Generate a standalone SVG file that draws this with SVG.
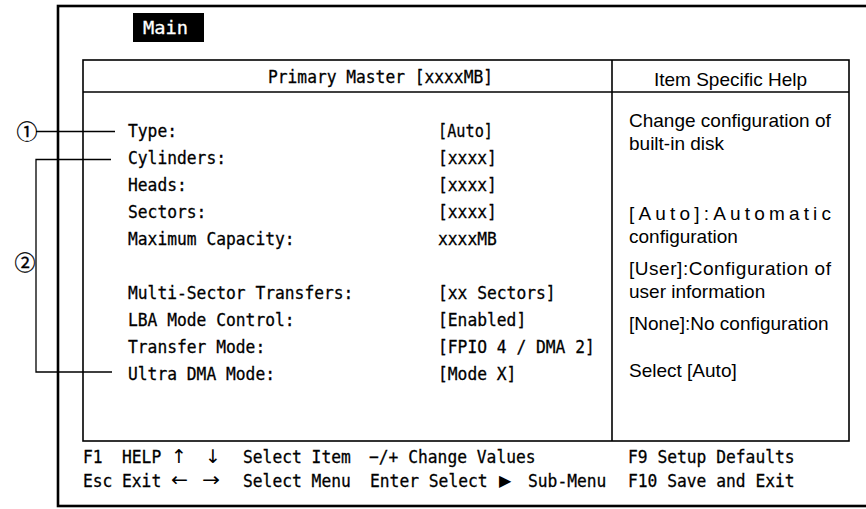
<svg xmlns="http://www.w3.org/2000/svg" width="866" height="509" viewBox="0 0 866 509">
<style>
.mono{font-family:"DejaVu Sans Mono","Liberation Mono",monospace;font-size:18px;fill:#000;stroke:#000;stroke-width:0.3}
.sans{font-family:"Liberation Sans",Arial,sans-serif;font-size:19px;fill:#000}
.circ{font-family:"Noto Sans CJK JP","DejaVu Sans",sans-serif;font-size:21px;fill:#000;stroke:#000;stroke-width:0.3}
.arr{font-family:"DejaVu Sans",sans-serif;font-size:19px;fill:#000}
.ln{stroke:#000;fill:none}
</style>
<rect width="866" height="509" fill="#fff"/>
<g id="frame">
<rect class="ln" x="58" y="6" width="830" height="500" stroke-width="2.6"/>
</g>
<g id="tab-main">
<rect x="133" y="13" width="71" height="29" fill="#000"/>
<text class="mono" x="143" y="34" style="fill:#fff;stroke:#fff" textLength="45" lengthAdjust="spacingAndGlyphs">Main</text>
</g>
<g id="panel">
<rect class="ln" x="83" y="60" width="766" height="381" stroke-width="1.6"/>
<line class="ln" x1="83" y1="92" x2="849" y2="92" stroke-width="1.6"/>
<line class="ln" x1="612" y1="60" x2="612" y2="441" stroke-width="1.6"/>
<text class="mono" x="268" y="83" textLength="225" lengthAdjust="spacingAndGlyphs">Primary Master [xxxxMB]</text>
</g>
<g id="items">
<g id="item-type"><text class="mono" x="128" y="137" textLength="49" lengthAdjust="spacingAndGlyphs">Type:</text><text class="mono" x="438" y="137" textLength="55" lengthAdjust="spacingAndGlyphs">[Auto]</text></g>
<g id="item-cylinders"><text class="mono" x="128" y="164" textLength="98" lengthAdjust="spacingAndGlyphs">Cylinders:</text><text class="mono" x="438" y="164" textLength="58.8" lengthAdjust="spacingAndGlyphs">[xxxx]</text></g>
<g id="item-heads"><text class="mono" x="128" y="191" textLength="58.8" lengthAdjust="spacingAndGlyphs">Heads:</text><text class="mono" x="438" y="191" textLength="58.8" lengthAdjust="spacingAndGlyphs">[xxxx]</text></g>
<g id="item-sectors"><text class="mono" x="128" y="218" textLength="78.4" lengthAdjust="spacingAndGlyphs">Sectors:</text><text class="mono" x="438" y="218" textLength="58.8" lengthAdjust="spacingAndGlyphs">[xxxx]</text></g>
<g id="item-maxcap"><text class="mono" x="128" y="245" textLength="166.6" lengthAdjust="spacingAndGlyphs">Maximum Capacity:</text><text class="mono" x="438" y="245" textLength="58.8" lengthAdjust="spacingAndGlyphs">xxxxMB</text></g>
<g id="item-multisector"><text class="mono" x="128" y="299" textLength="225.4" lengthAdjust="spacingAndGlyphs">Multi-Sector Transfers:</text><text class="mono" x="438" y="299" textLength="117.6" lengthAdjust="spacingAndGlyphs">[xx Sectors]</text></g>
<g id="item-lba"><text class="mono" x="128" y="326" textLength="166.6" lengthAdjust="spacingAndGlyphs">LBA Mode Control:</text><text class="mono" x="438" y="326" textLength="88.2" lengthAdjust="spacingAndGlyphs">[Enabled]</text></g>
<g id="item-transfer"><text class="mono" x="128" y="353" textLength="137.2" lengthAdjust="spacingAndGlyphs">Transfer Mode:</text><text class="mono" x="438" y="353" textLength="156.8" lengthAdjust="spacingAndGlyphs">[FPIO 4 / DMA 2]</text></g>
<g id="item-ultradma"><text class="mono" x="128" y="380" textLength="147" lengthAdjust="spacingAndGlyphs">Ultra DMA Mode:</text><text class="mono" x="438" y="380" textLength="78.4" lengthAdjust="spacingAndGlyphs">[Mode X]</text></g>
</g>
<g id="help">
<text class="sans" x="730.5" y="86" text-anchor="middle">Item Specific Help</text>
<text class="sans" x="629" y="127">Change configuration of</text>
<text class="sans" x="629" y="150">built-in disk</text>
<text class="sans" x="629" y="220" textLength="202" lengthAdjust="spacing">[Auto]:Automatic</text>
<text class="sans" x="629" y="243">configuration</text>
<text class="sans" x="629" y="275" textLength="202" lengthAdjust="spacing">[User]:Configuration of</text>
<text class="sans" x="629" y="298">user information</text>
<text class="sans" x="629" y="330">[None]:No configuration</text>
<text class="sans" x="629" y="377">Select [Auto]</text>
</g>
<g id="statusbar">
<text class="mono" x="83" y="463" textLength="19.6" lengthAdjust="spacingAndGlyphs">F1</text>
<text class="mono" x="122" y="463" textLength="39.2" lengthAdjust="spacingAndGlyphs">HELP</text>
<text class="arr" x="171" y="463">↑</text>
<text class="arr" x="205" y="463">↓</text>
<text class="mono" x="243" y="463" textLength="107.8" lengthAdjust="spacingAndGlyphs">Select Item</text>
<text class="mono" x="369" y="463" textLength="166.6" lengthAdjust="spacingAndGlyphs">−/+ Change Values</text>
<text class="mono" x="628" y="463" textLength="166.6" lengthAdjust="spacingAndGlyphs">F9 Setup Defaults</text>
<text class="mono" x="83" y="487" textLength="29.4" lengthAdjust="spacingAndGlyphs">Esc</text>
<text class="mono" x="122" y="487" textLength="39.2" lengthAdjust="spacingAndGlyphs">Exit</text>
<text class="arr" x="171" y="486" textLength="17" lengthAdjust="spacingAndGlyphs">←</text>
<text class="arr" x="202" y="486" textLength="18" lengthAdjust="spacingAndGlyphs">→</text>
<text class="mono" x="243" y="487" textLength="107.8" lengthAdjust="spacingAndGlyphs">Select Menu</text>
<text class="mono" x="370" y="487" textLength="117.6" lengthAdjust="spacingAndGlyphs">Enter Select</text>
<text class="arr" x="499" y="486" style="font-size:16px">▶</text>
<text class="mono" x="528" y="487" textLength="78.4" lengthAdjust="spacingAndGlyphs">Sub-Menu</text>
<text class="mono" x="628" y="487" textLength="166.6" lengthAdjust="spacingAndGlyphs">F10 Save and Exit</text>
</g>
<g id="marker-1">
<text class="circ" x="27" y="138.5" text-anchor="middle">①</text>
</g>
<g id="marker-2">
<text class="circ" x="25" y="269.5" text-anchor="middle">②</text>
</g>
<g id="connectors" class="ln" stroke-width="1.3">
<line x1="36" y1="131.5" x2="115" y2="131.5"/>
<polyline points="111,159.5 36,159.5 36,372 112,372"/>
</g>
</svg>
